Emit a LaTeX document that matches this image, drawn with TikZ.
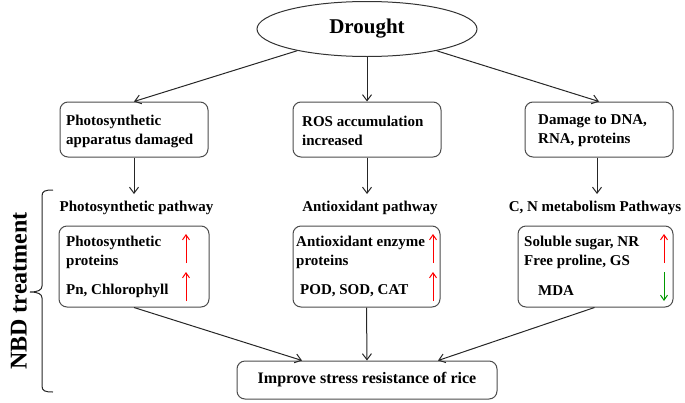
\documentclass[tikz,border=0pt]{standalone}
\usepackage{fontspec}
\setmainfont{Liberation Serif}
\usetikzlibrary{arrows.meta,shapes.geometric}
\begin{document}
\begin{tikzpicture}[x=1pt,y=-1pt,
  bx/.style={draw=black!70,line width=1pt,rounded corners=8pt,inner sep=0pt},
  ell/.style={draw=black!80,line width=1pt,ellipse,inner sep=0pt},
  tx/.style={font=\fontsize{15}{19}\selectfont\bfseries,align=left,anchor=west,inner sep=0pt},
  lb/.style={font=\fontsize{15}{19}\selectfont\bfseries,inner sep=0pt},
  conn/.style={draw=black!85,line width=1pt,-{Straight Barb[length=6pt,width=9pt]}},
  redup/.style={draw=red,line width=1pt,-{Straight Barb[length=5pt,width=7pt]}},
  greendown/.style={draw=green!60!black,line width=1pt,-{Straight Barb[length=5pt,width=7pt]}}
]
\useasboundingbox (0,0) rectangle (685,402);

% top ellipse
\node[ell,minimum width=220pt,minimum height=55pt,font=\fontsize{21}{24}\selectfont\bfseries] (dr) at (367,29) {Drought};

% top boxes
\node[bx,minimum width=148pt,minimum height=55pt] (t1) at (134,129.5) {};
\node[bx,minimum width=148pt,minimum height=55pt] (t2) at (367,129.5) {};
\node[bx,minimum width=148pt,minimum height=55pt] (t3) at (599,129.5) {};
\node[tx] (t1x) at (66,131) {Photosynthetic\\apparatus damaged};
\node[tx] (t2x) at (302,131) {ROS accumulation\\increased};
\node[tx] (t3x) at (538,131) {Damage to DNA,\\RNA, proteins};

\draw[conn] (dr) -- (t1.north);
\draw[conn] (dr.south) -- (t2.north);
\draw[conn] (dr) -- (t3.north);

% pathway labels
\coordinate (c1) at (134,194);
\coordinate (c2) at (367,194);
\coordinate (c3) at (597,194);
\draw[conn] (t1.south) -- (c1);
\draw[conn] (t2.south) -- (c2);
\draw[conn] (t3.south -| c3) -- (c3);
\node[lb] (l1) at (136.5,208) {Photosynthetic pathway};
\node[lb] (l2) at (370,208) {Antioxidant pathway};
\node[lb] (l3) at (595,208) {C, N metabolism Pathways};

% pathway boxes
\node[bx,minimum width=150pt,minimum height=81pt] (p1) at (134,266.5) {};
\node[bx,minimum width=147pt,minimum height=81pt] (p2) at (366.5,266.5) {};
\node[bx,minimum width=155pt,minimum height=81pt] (p3) at (595.5,266.5) {};

\node[tx] (p1a) at (66,252.5) {Photosynthetic\\proteins};
\node[tx] (p1b) at (66,291) {Pn, Chlorophyll};
\node[tx] (p2a) at (296,252.5) {Antioxidant enzyme\\proteins};
\node[tx] (p2b) at (300,291) {POD, SOD, CAT};
\node[tx] (p3a) at (524,252.5) {Soluble sugar, NR\\Free proline, GS};
\node[tx] (p3b) at (538,291) {MDA};

\draw[redup] (186,263) -- (186,234);
\draw[redup] (186,301) -- (186,272);
\draw[redup] (433,263) -- (433,234);
\draw[redup] (433,301) -- (433,272);
\draw[redup] (664,263) -- (664,234);
\draw[greendown] (664,272) -- (664,301);

% bottom box
\node[bx,minimum width=260pt,minimum height=38pt,font=\fontsize{16}{19}\selectfont\bfseries] (bt) at (367,380) {Improve stress resistance of rice};
\draw[conn] (p1.south) -- ([xshift=-65pt]bt.north);
\draw[conn] (p2.south) -- (bt.north);
\draw[conn] ([xshift=-1pt]p3.south) -- ([xshift=71pt]bt.north);

% brace
\draw[black!85,line width=1pt] (53,190) .. controls (45,190) and (42,191) .. (42,196) -- (42,286)
  .. controls (42,290) and (38,292) .. (30,292)
  .. controls (38,292) and (42,294) .. (42,298) -- (42,386)
  .. controls (42,391) and (45,392) .. (53,392);
\node[rotate=90,font=\fontsize{24}{28}\selectfont\bfseries,inner sep=0pt] (nbd) at (19,291) {NBD treatment};
\end{tikzpicture}
\end{document}
